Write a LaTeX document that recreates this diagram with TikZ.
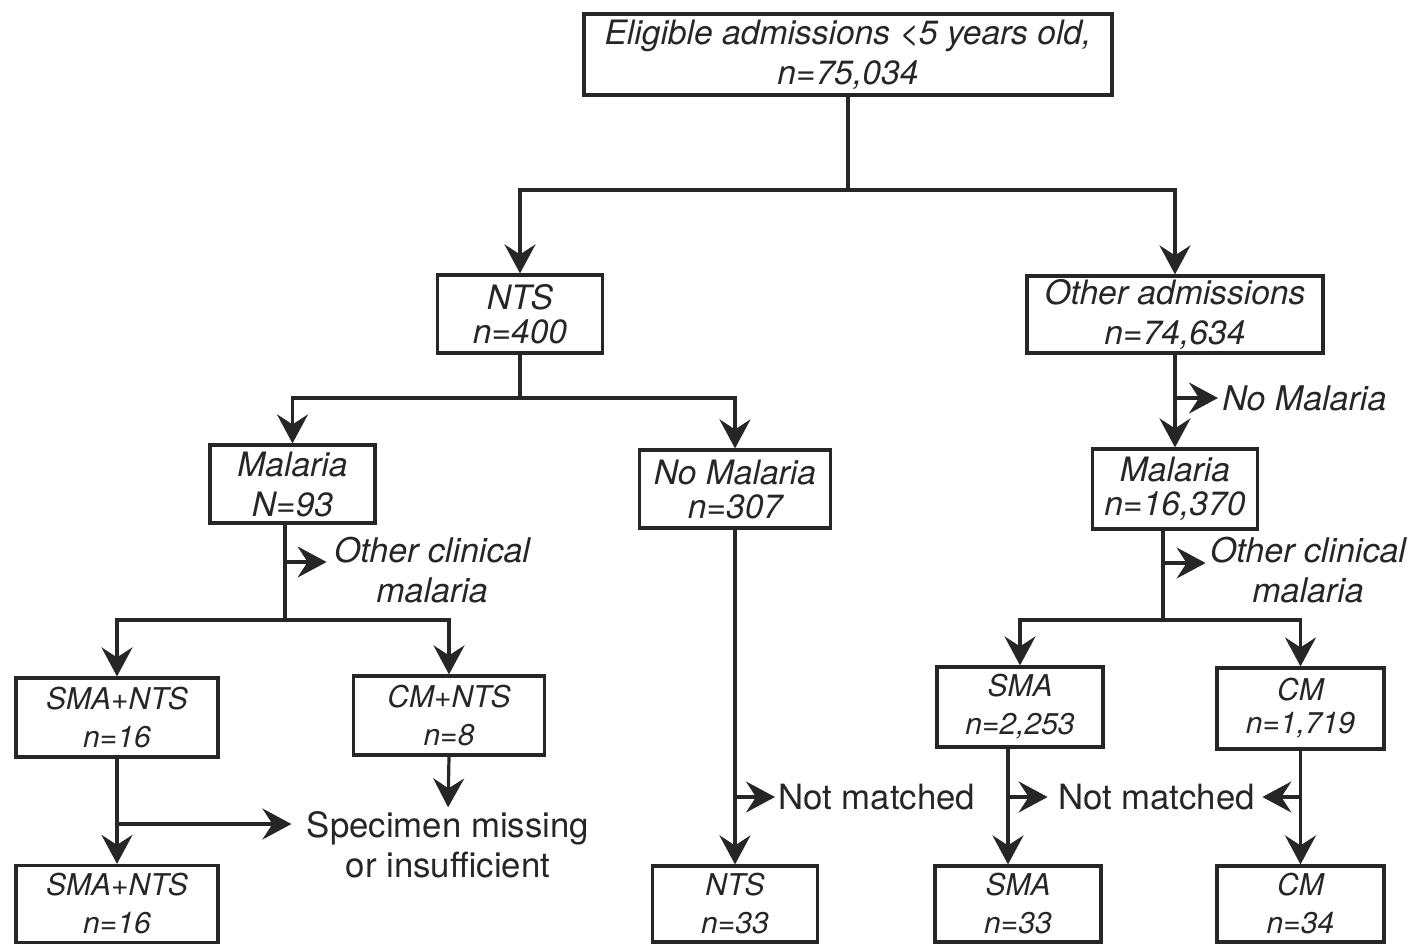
\documentclass[tikz,border=0pt]{standalone}
\usepackage{fontspec}
\setmainfont{TeX Gyre Heros}
\usetikzlibrary{arrows.meta}

\definecolor{ink}{HTML}{262626}

\tikzset{
  box/.style={draw=ink, line width=1.6pt, align=center, inner sep=0pt, text=ink,
    font=\itshape\fontsize{16.8}{20}\selectfont},
  sbox/.style={box, font=\itshape\fontsize{15}{19}\selectfont},
  note/.style={align=center, inner sep=0pt, text=ink, font=\itshape\fontsize{17}{20}\selectfont},
  plain/.style={note, font=\fontsize{17.4}{20}\selectfont},
  link/.style={draw=ink, line width=1.6pt},
  flow/.style={link, -{Stealth[length=14.5pt,width=15.5pt,inset=5pt]}}
}

\begin{document}
\begin{tikzpicture}[x=0.5pt,y=-0.5pt]
\useasboundingbox (0,0) rectangle (1410,944);

\node[box, minimum width=264pt, minimum height=40.5pt] (all) at (848,54.5)
  {Eligible admissions \textless5 years old,\\ n=75,034};

\node[box, minimum width=82.5pt, minimum height=39pt] (nts) at (520,314) {NTS\\[-3pt] n=400};
\node[box, minimum width=148pt, minimum height=38.5pt] (oth) at (1175,314.5) {Other admissions\\ n=74,634};

\node[box, minimum width=82.5pt, minimum height=39pt] (malA) at (292.5,484) {Malaria\\ N=93};
\node[box, minimum width=95.5pt, minimum height=39pt] (nom) at (735,489) {No Malaria\\[-3pt] n=307};
\node[box, minimum width=82.5pt, minimum height=40pt] (malB) at (1175,489) {Malaria\\[-3pt] n=16,370};

\node[sbox, minimum width=101pt, minimum height=39.5pt] (smA) at (117,717.5) {SMA+NTS\\ n=16};
\node[sbox, minimum width=95.5pt, minimum height=39.5pt] (cmn) at (449,715.5) {CM+NTS\\ n=8};
\node[sbox, minimum width=83pt, minimum height=40pt] (sma) at (1020,707) {SMA\\ n=2,253};
\node[sbox, minimum width=83.5pt, minimum height=40.5pt] (cm) at (1300.5,708.5) {CM\\[-2.5pt] n=1,719};

\node[sbox, minimum width=101pt, minimum height=38.5pt] (smB) at (117,904) {SMA+NTS\\ n=16};
\node[sbox, minimum width=82.5pt, minimum height=38pt] (ntsB) at (735,904) {NTS\\ n=33};
\node[sbox, minimum width=83pt, minimum height=38pt] (smaB) at (1018,904) {SMA\\ n=33};
\node[sbox, minimum width=83.5pt, minimum height=38pt] (cmB) at (1300.5,904) {CM\\ n=34};

\node[note, anchor=west] (nomB) at (1222,398) {No Malaria};
\node[note] (ocA) at (432,570) {Other clinical\\ malaria};
\node[note] (ocB) at (1308,570) {Other clinical\\ malaria};
\node[plain, anchor=west] (nmA) at (778,797) {Not matched};
\node[plain] (nmB) at (1156.5,797) {Not matched};
\node[plain] (spec) at (448,845) {Specimen missing\\ or insufficient};

\coordinate (b0) at (848,190);
\coordinate (b1) at (520,398);
\coordinate (b2) at (285,620);
\coordinate (b3) at (1163,620);
\coordinate (s2) at (285,562);
\coordinate (s3) at (1163,563);
\coordinate (s4) at (117,824);

\draw[link] (all.south) -- (b0);
\draw[flow] (b0) -| (nts.north);
\draw[flow] (b0) -| (oth.north);

\draw[link] (nts.south) -- (b1);
\draw[flow] (b1) -| (malA.north);
\draw[flow] (b1) -| (nom.north);

\draw[flow] (oth.south) -- (malB.north);
\draw[flow, shorten >=2pt] (oth.south |- nomB) -- (nomB.west);

\draw[link] (malA.south -| b2) -- (b2);
\draw[flow] (b2) -| (smA.north);
\draw[flow] (b2) -| (cmn.north);
\draw[flow, shorten >=3.5pt] (s2) -- (s2 -| ocA.west);

\draw[link] (malB.south -| b3) -- (b3);
\draw[flow] (b3) -| (sma.north);
\draw[flow] (b3) -| (cm.north);
\draw[flow, shorten >=2pt] (s3) -- (s3 -| ocB.west);

\draw[flow] (nom.south) -- (ntsB.north);
\draw[flow, shorten >=1.5pt] (nom.south |- nmA) -- (nmA.west);

\draw[flow] ([xshift=-6pt]sma.south) -- ([xshift=-5pt]smaB.north);
\draw[flow, shorten >=5pt] ([xshift=-6pt]sma.south |- nmB) -- (nmB.west);
\draw[flow] (cm.south) -- (cmB.north);
\draw[flow, shorten >=3.5pt] (cm.south |- nmB) -- (nmB.east);

\draw[flow] (smA.south) -- (smB.north);
\draw[flow, shorten >=7.5pt] (s4) -- (s4 -| spec.west);
\draw[flow, shorten >=2pt] (cmn.south) -- (spec.north);

\end{tikzpicture}
\end{document}
